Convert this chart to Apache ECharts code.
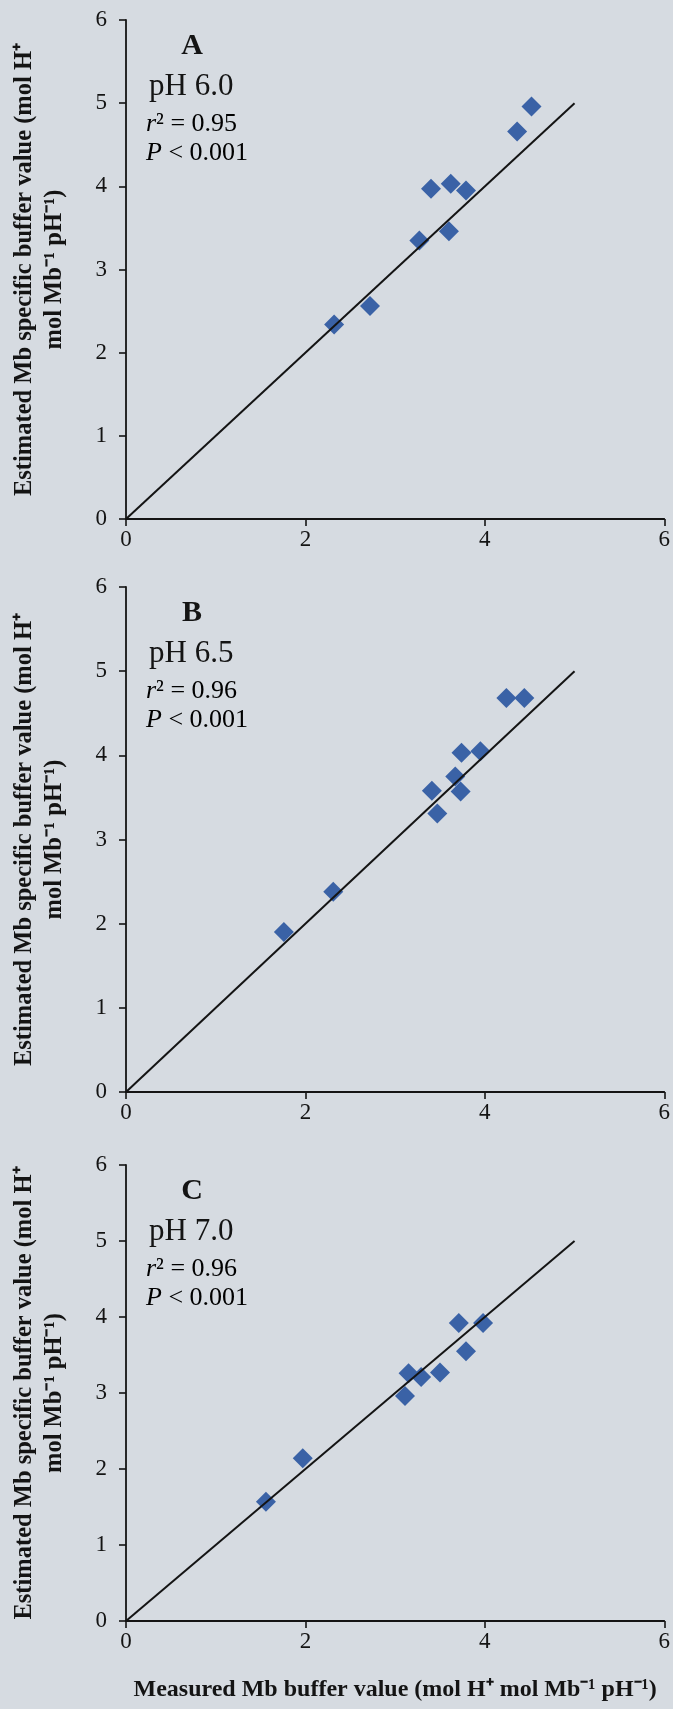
<!DOCTYPE html>
<html>
<head>
<meta charset="utf-8">
<script src="https://cdn.jsdelivr.net/npm/echarts@6/dist/echarts.min.js"></script>
<style>
html,body{margin:0;padding:0;background:#d6dbe1;}
#chart{width:673px;height:1709px;}
</style>
</head>
<body>
<div id="chart"></div>
<script>
// Panel A: pH 6.0
const measuredA = [2.32, 2.72, 3.27, 3.40, 3.60, 3.62, 3.79, 4.36, 4.52];
const estimatedA = [2.34, 2.56, 3.35, 3.97, 3.46, 4.03, 3.95, 4.66, 4.96];
// Panel B: pH 6.5
const measuredB = [1.76, 2.31, 3.41, 3.47, 3.67, 3.73, 3.74, 3.95, 4.24, 4.44];
const estimatedB = [1.90, 2.38, 3.58, 3.31, 3.75, 3.57, 4.03, 4.05, 4.68, 4.68];
// Panel C: pH 7.0
const measuredC = [1.56, 1.97, 3.11, 3.15, 3.29, 3.50, 3.71, 3.79, 3.98];
const estimatedC = [1.57, 2.14, 2.96, 3.26, 3.21, 3.27, 3.92, 3.55, 3.92];
// 1:1 reference line
const lineX = [0, 5];
const lineY = [0, 5];
// axis ticks
const xTicks = [0, 2, 4, 6];
const yTicks = [0, 1, 2, 3, 4, 5, 6];
// annotations
const panelLetters = ['A', 'B', 'C'];
const panelPH = ['pH 6.0', 'pH 6.5', 'pH 7.0'];
const panelR2 = ['0.95', '0.96', '0.96'];
const panelP = ['0.001', '0.001', '0.001'];
const yTitle = 'Estimated Mb specific buffer value (mol H\u207A\nmol Mb\u207B\u00B9 pH\u207B\u00B9)';
const xTitle = 'Measured Mb buffer value (mol H\u207A mol Mb\u207B\u00B9 pH\u207B\u00B9)';

const SERIF = '"Liberation Serif","Times New Roman",serif';
const INK = '#141414';
const BLUE = '#3a62a6';

const grids = [
  {left: 126, width: 539, top: 20, height: 499},
  {left: 126, width: 539, top: 587, height: 505},
  {left: 126, width: 539, top: 1165, height: 456}
];

const datasets = [[measuredA, estimatedA], [measuredB, estimatedB], [measuredC, estimatedC]];

const xAxes = grids.map((g, i) => ({
  gridIndex: i, type: 'value', min: 0, max: 6, interval: 2,
  axisLine: {show: true, onZero: false, lineStyle: {color: INK, width: 1.8}},
  axisTick: {show: true, inside: false, length: 7, lineStyle: {color: INK, width: 1.6}},
  splitLine: {show: false},
  axisLabel: {
    fontFamily: SERIF, fontSize: 23, color: INK, margin: 9,
    formatter: v => xTicks.includes(v) ? String(v) : ''
  },
  name: i === 2 ? xTitle : '',
  nameLocation: 'middle', nameGap: 57,
  nameTextStyle: {fontFamily: SERIF, fontSize: 24, fontWeight: 'bold', color: INK}
}));

const yAxes = grids.map((g, i) => ({
  gridIndex: i, type: 'value', min: 0, max: 6, interval: 1,
  axisLine: {show: true, onZero: false, lineStyle: {color: INK, width: 1.8}},
  axisTick: {show: true, inside: false, length: 7, lineStyle: {color: INK, width: 1.6}},
  splitLine: {show: false},
  axisLabel: {
    fontFamily: SERIF, fontSize: 23, color: INK, margin: 19,
    formatter: v => yTicks.includes(v) ? String(v) : ''
  },
  name: yTitle,
  nameLocation: 'middle', nameRotate: 90, nameGap: 56,
  nameTextStyle: {fontFamily: SERIF, fontSize: 24.5, fontWeight: 'bold', color: INK, lineHeight: 30, align: 'center'}
}));

const series = [];
datasets.forEach((d, i) => {
  series.push({
    type: 'scatter', xAxisIndex: i, yAxisIndex: i,
    data: d[0].map((x, k) => [x, d[1][k]]),
    symbol: 'diamond', symbolSize: 20,
    itemStyle: {color: BLUE, opacity: 1},
    z: 2
  });
  series.push({
    type: 'line', xAxisIndex: i, yAxisIndex: i,
    data: lineX.map((x, k) => [x, lineY[k]]),
    showSymbol: false, symbol: 'none',
    lineStyle: {color: INK, width: 2},
    z: 3, silent: true
  });
});

const graphic = [];
grids.forEach((g, i) => {
  const t = g.top;
  graphic.push({type: 'text', x: 192, y: t + 26, style: {
    text: panelLetters[i], font: 'bold 30px ' + SERIF, fill: INK, align: 'center', verticalAlign: 'middle'}});
  graphic.push({type: 'text', x: 149, y: t + 67, style: {
    text: panelPH[i], font: '31px ' + SERIF, fill: INK, align: 'left', verticalAlign: 'middle'}});
  graphic.push({type: 'text', x: 146, y: t + 104, style: {
    text: '{i|r}{n|\u00B2 = ' + panelR2[i] + '}',
    align: 'left', verticalAlign: 'middle',
    rich: {
      i: {fontFamily: SERIF, fontSize: 26, fontStyle: 'italic', color: INK},
      n: {fontFamily: SERIF, fontSize: 26, color: INK}
    }}});
  graphic.push({type: 'text', x: 146, y: t + 133, style: {
    text: '{i|P}{n| < ' + panelP[i] + '}',
    align: 'left', verticalAlign: 'middle',
    rich: {
      i: {fontFamily: SERIF, fontSize: 26, fontStyle: 'italic', color: INK},
      n: {fontFamily: SERIF, fontSize: 26, color: INK}
    }}});
});

const chart = echarts.init(document.getElementById('chart'), null, {renderer: 'canvas'});
chart.setOption({
  backgroundColor: '#d6dbe1',
  animation: false,
  grid: grids.map(g => Object.assign({containLabel: false}, g)),
  xAxis: xAxes,
  yAxis: yAxes,
  series: series,
  graphic: graphic
});
</script>
</body>
</html>
